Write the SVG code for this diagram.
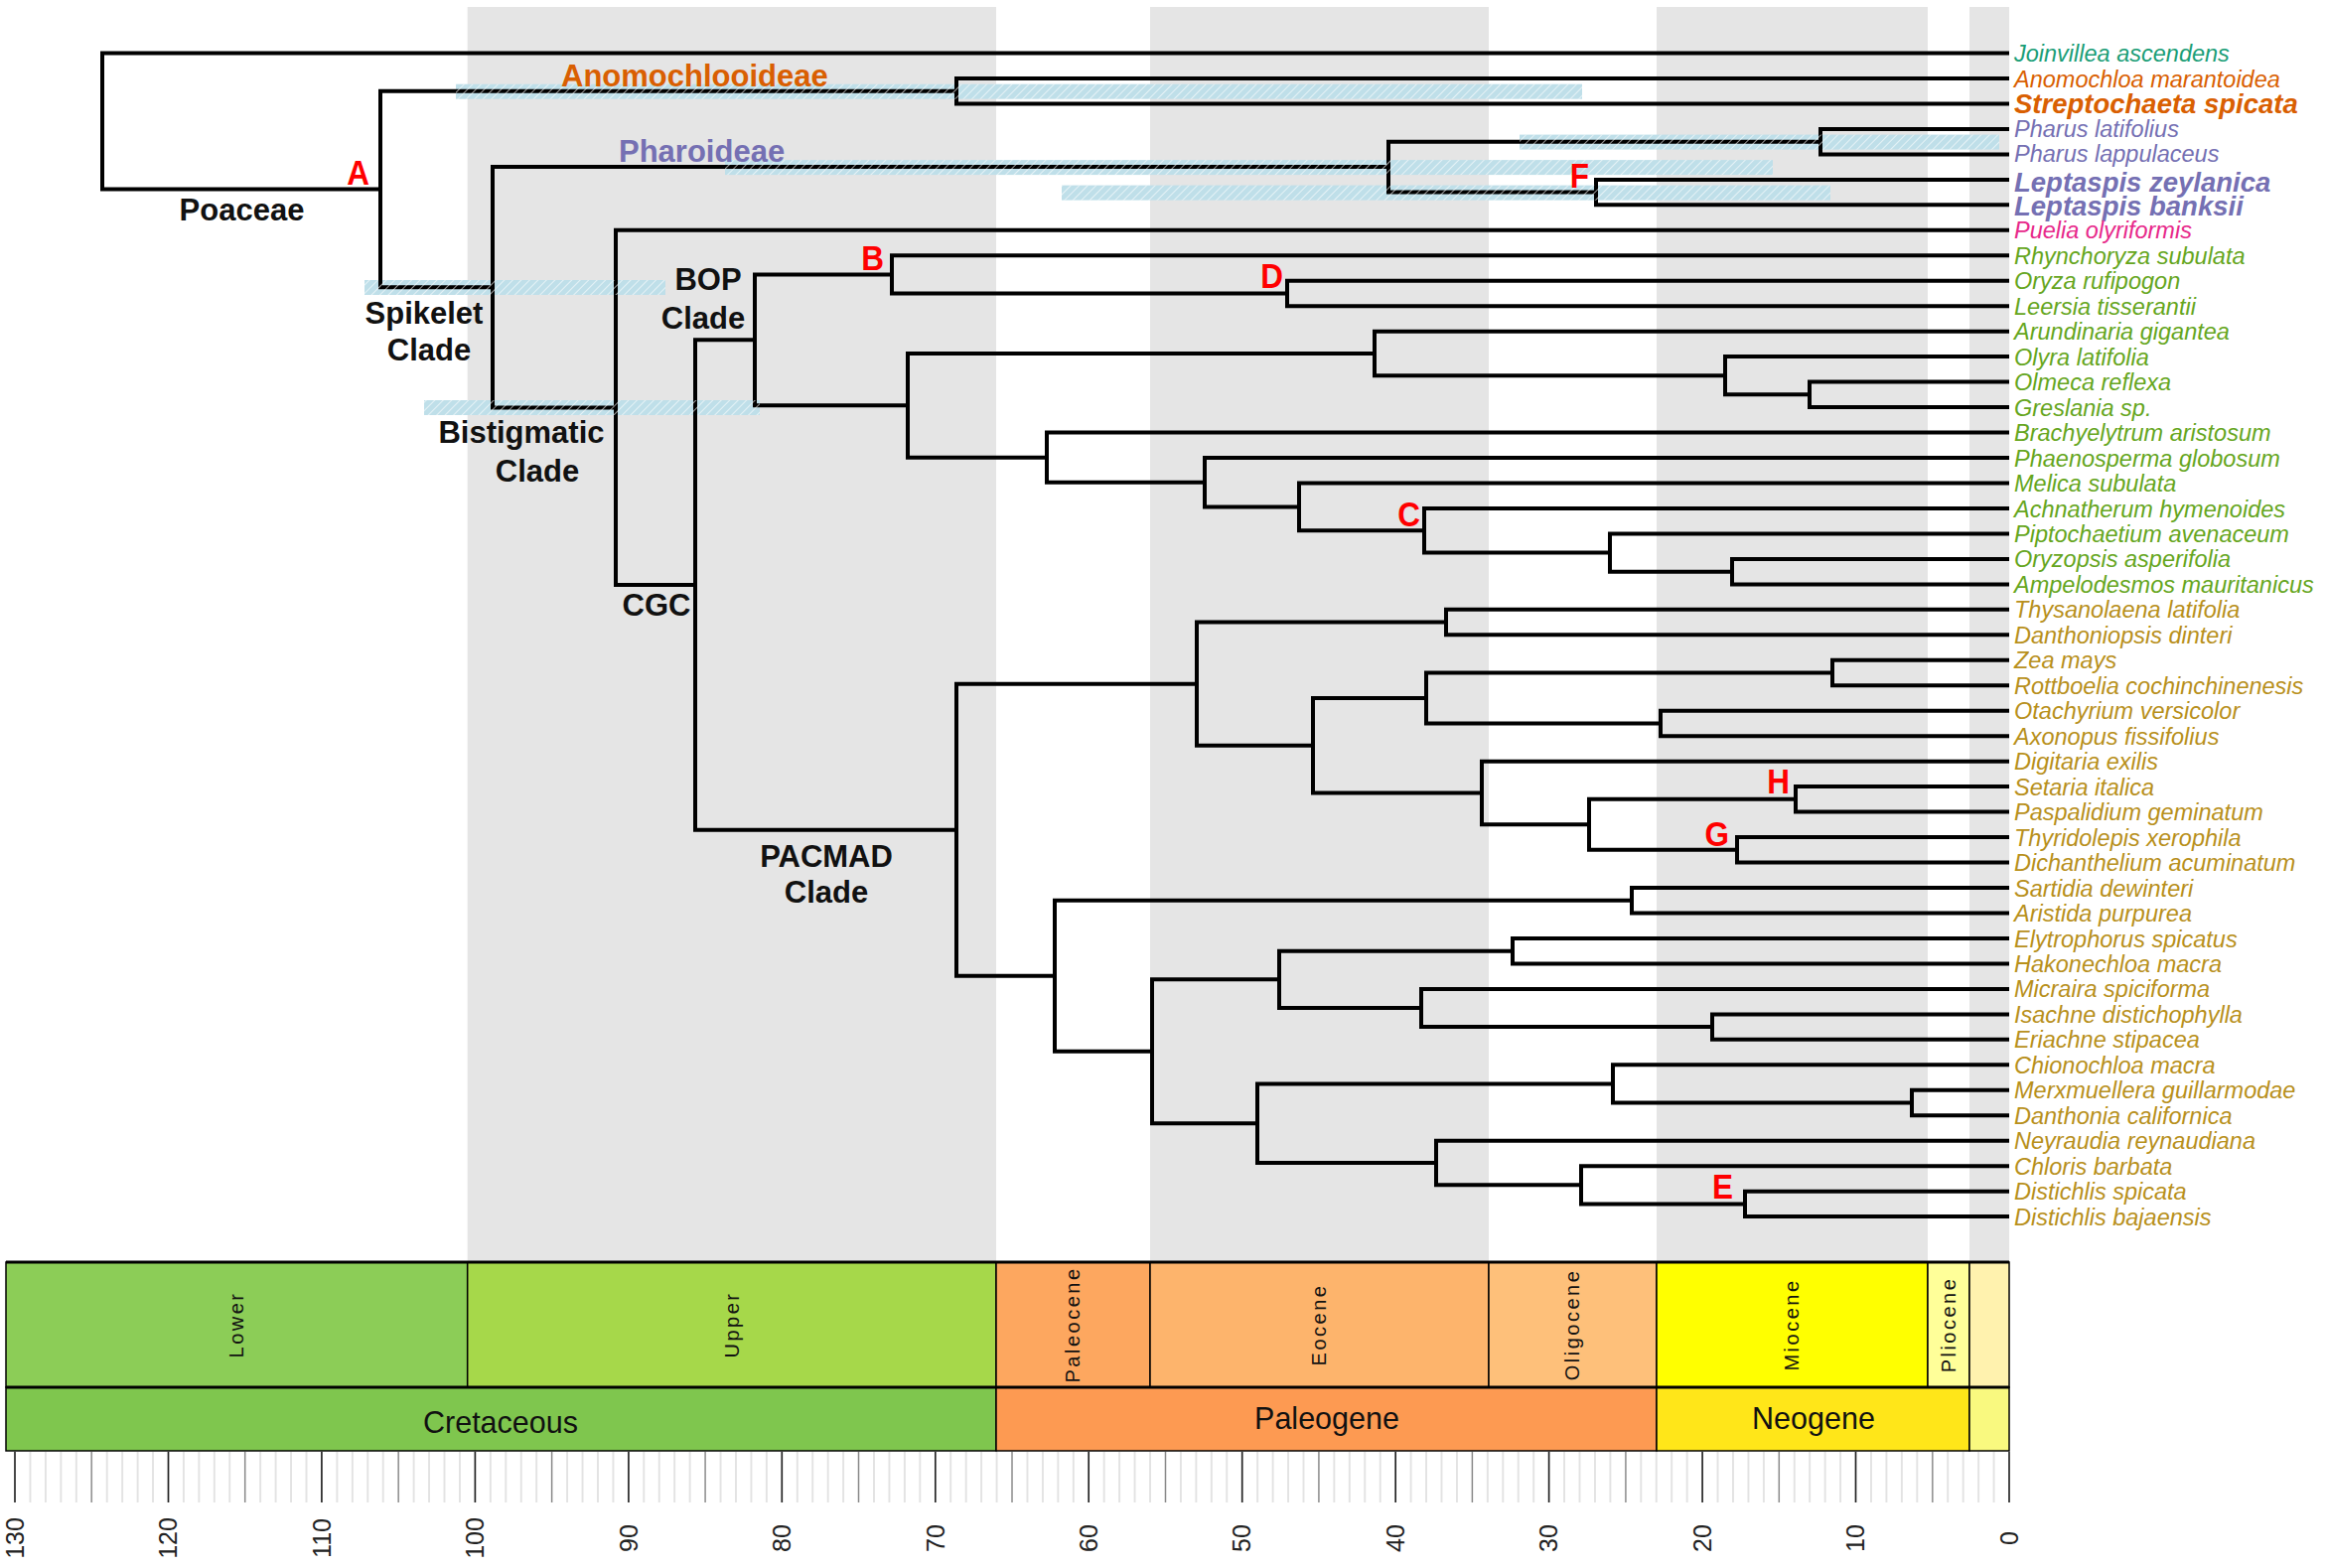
<svg xmlns="http://www.w3.org/2000/svg" width="2342" height="1579" viewBox="0 0 2342 1579">
<style>
.br{fill:none;stroke:#000;stroke-width:4;stroke-linejoin:miter}
.tip{font-family:"Liberation Sans",Arial,sans-serif;font-style:italic;font-size:23.5px}
.tipb{font-family:"Liberation Sans",Arial,sans-serif;font-style:italic;font-weight:bold;font-size:27.5px}
.cl{font-family:"Liberation Sans",Arial,sans-serif;font-weight:bold;font-size:31px;fill:#111;text-anchor:middle}
.nl{font-family:"Liberation Sans",Arial,sans-serif;font-weight:bold;font-size:35px;fill:#f00;text-anchor:end}
.bop{fill:#66a61e}.pac{fill:#b8901c}.pha{fill:#7570b3}.ano{fill:#d95f02}
.band{fill:#e5e5e5}
.bar{fill:#bfdfe9}
.hat{fill:url(#stripes)}
.stg{font-family:"Liberation Sans",Arial,sans-serif;font-size:20px;letter-spacing:2.5px;fill:#111;text-anchor:middle}
.per{font-family:"Liberation Sans",Arial,sans-serif;font-size:30.5px;fill:#111;text-anchor:middle}
.num{font-family:"Liberation Sans",Arial,sans-serif;font-size:25px;fill:#222;text-anchor:middle}
.cell{stroke:#000;stroke-width:1.5}
</style>
<defs>
<pattern id="stripes" patternUnits="userSpaceOnUse" width="6" height="6" patternTransform="rotate(45)">
<line x1="0" y1="0" x2="0" y2="6" stroke="#ffffff" stroke-opacity="0.6" stroke-width="2"/>
</pattern>
<pattern id="minor" patternUnits="userSpaceOnUse" x="2015.277" y="0" width="15.446" height="1579">
<line x1="7.723" y1="0" x2="7.723" y2="1579" stroke="#c8c8c8" stroke-width="1"/>
</pattern>
</defs>
<rect width="2342" height="1579" fill="#fff"/>
<g id="bands">
<rect class="band" x="470.7" y="7" width="532.3" height="1264"/>
<rect class="band" x="1158" y="7" width="341" height="1264"/>
<rect class="band" x="1668" y="7" width="273" height="1264"/>
<rect class="band" x="1983" y="7" width="40" height="1264"/>
</g>
<g id="timescale">
<rect x="6" y="1271" width="464.7" height="126" fill="#8ccd57" class="cell"/>
<rect x="470.7" y="1271" width="532.3" height="126" fill="#a6d84a" class="cell"/>
<rect x="1003" y="1271" width="155" height="126" fill="#fda75f" class="cell"/>
<rect x="1158" y="1271" width="341" height="126" fill="#fdb46c" class="cell"/>
<rect x="1499" y="1271" width="169" height="126" fill="#fec07a" class="cell"/>
<rect x="1668" y="1271" width="273" height="126" fill="#ffff00" class="cell"/>
<rect x="1941" y="1271" width="42" height="126" fill="#ffff99" class="cell"/>
<rect x="1983" y="1271" width="40" height="126" fill="#fff2ae" class="cell"/>
<rect x="6" y="1397" width="997" height="64" fill="#7fc64e" class="cell"/>
<rect x="1003" y="1397" width="665" height="64" fill="#fd9a52" class="cell"/>
<rect x="1668" y="1397" width="315" height="64" fill="#ffe619" class="cell"/>
<rect x="1983" y="1397" width="40" height="64" fill="#f9f97f" class="cell"/>
<line x1="6" y1="1271" x2="2023" y2="1271" stroke="#000" stroke-width="3"/>
<line x1="6" y1="1397" x2="2023" y2="1397" stroke="#000" stroke-width="3"/>
<text class="stg" transform="translate(238,1334) rotate(-90)" dy="0.35em">Lower</text>
<text class="stg" transform="translate(737,1334) rotate(-90)" dy="0.35em">Upper</text>
<text class="stg" transform="translate(1080,1334) rotate(-90)" dy="0.35em">Paleocene</text>
<text class="stg" transform="translate(1328,1334) rotate(-90)" dy="0.35em">Eocene</text>
<text class="stg" transform="translate(1583,1334) rotate(-90)" dy="0.35em">Oligocene</text>
<text class="stg" transform="translate(1804,1334) rotate(-90)" dy="0.35em">Miocene</text>
<text class="stg" transform="translate(1962,1334) rotate(-90)" dy="0.35em">Pliocene</text>
<text class="per" x="504" y="1443">Cretaceous</text>
<text class="per" x="1336" y="1439">Paleogene</text>
<text class="per" x="1826" y="1439">Neogene</text>
<rect x="8" y="1462" width="2016" height="51" fill="url(#minor)"/>
<path d="M1945.8 1462V1513M1791.3 1462V1513M1636.9 1462V1513M1482.4 1462V1513M1327.9 1462V1513M1173.5 1462V1513M1019 1462V1513M864.5 1462V1513M710.1 1462V1513M555.6 1462V1513M401.2 1462V1513M246.7 1462V1513M92.2 1462V1513" stroke="#888" stroke-width="1.3"/>
<path d="M2023 1462V1513M1868.5 1462V1513M1714.1 1462V1513M1559.6 1462V1513M1405.2 1462V1513M1250.7 1462V1513M1096.2 1462V1513M941.8 1462V1513M787.3 1462V1513M632.9 1462V1513M478.4 1462V1513M323.9 1462V1513M169.5 1462V1513M15 1462V1513" stroke="#222" stroke-width="1.6"/>
<text class="num" transform="translate(15,1549) rotate(-90)" dy="0.35em">130</text>
<text class="num" transform="translate(169.5,1549) rotate(-90)" dy="0.35em">120</text>
<text class="num" transform="translate(323.9,1549) rotate(-90)" dy="0.35em">110</text>
<text class="num" transform="translate(478.4,1549) rotate(-90)" dy="0.35em">100</text>
<text class="num" transform="translate(632.9,1549) rotate(-90)" dy="0.35em">90</text>
<text class="num" transform="translate(787.3,1549) rotate(-90)" dy="0.35em">80</text>
<text class="num" transform="translate(941.8,1549) rotate(-90)" dy="0.35em">70</text>
<text class="num" transform="translate(1096.2,1549) rotate(-90)" dy="0.35em">60</text>
<text class="num" transform="translate(1250.7,1549) rotate(-90)" dy="0.35em">50</text>
<text class="num" transform="translate(1405.2,1549) rotate(-90)" dy="0.35em">40</text>
<text class="num" transform="translate(1559.6,1549) rotate(-90)" dy="0.35em">30</text>
<text class="num" transform="translate(1714.1,1549) rotate(-90)" dy="0.35em">20</text>
<text class="num" transform="translate(1868.5,1549) rotate(-90)" dy="0.35em">10</text>
<text class="num" transform="translate(2023,1549) rotate(-90)" dy="0.35em">0</text>
</g>
<g id="hpd-bars">
<rect class="bar" x="459" y="84.7" width="1134" height="15"/>
<rect class="bar" x="730" y="161.1" width="1055" height="15"/>
<rect class="bar" x="1530" y="135.6" width="483" height="15"/>
<rect class="bar" x="1069" y="186.6" width="774" height="15"/>
<rect class="bar" x="367" y="282" width="303" height="15"/>
<rect class="bar" x="427" y="403" width="338" height="15"/>
</g>
<g id="connectors">
<path class="br" d="M2023 53.5H103V190.5H383"/>
<path class="br" d="M963 91.7H383V289.25H496"/>
<path class="br" d="M2023 79H963V104.4H2023"/>
<path class="br" d="M1398 168.1H496V410.4H620"/>
<path class="br" d="M1833 142.65H1398V193.6H1607"/>
<path class="br" d="M2023 129.9H1833V155.4H2023"/>
<path class="br" d="M2023 180.9H1607V206.3H2023"/>
<path class="br" d="M2023 231.8H620V589H700"/>
<path class="br" d="M760 342.35H700V835.7H963"/>
<path class="br" d="M898 276.4H760V408.3H914"/>
<path class="br" d="M2023 257.3H898V295.45H1296"/>
<path class="br" d="M2023 282.7H1296V308.2H2023"/>
<path class="br" d="M1384 355.95H914V460.65H1054"/>
<path class="br" d="M2023 333.7H1384V378.2H1737"/>
<path class="br" d="M2023 359.1H1737V397.35H1822"/>
<path class="br" d="M2023 384.6H1822V410.1H2023"/>
<path class="br" d="M2023 435.6H1054V485.7H1213"/>
<path class="br" d="M2023 461H1213V510.4H1308"/>
<path class="br" d="M2023 486.5H1308V534.25H1434"/>
<path class="br" d="M2023 512H1434V556.5H1621"/>
<path class="br" d="M2023 537.4H1621V575.65H1744"/>
<path class="br" d="M2023 562.9H1744V588.4H2023"/>
<path class="br" d="M1205 688.65H963V982.8H1062"/>
<path class="br" d="M1456 626.55H1205V750.75H1322"/>
<path class="br" d="M2023 613.8H1456V639.3H2023"/>
<path class="br" d="M1436 703H1322V798.5H1492"/>
<path class="br" d="M1845 677.55H1436V728.45H1672"/>
<path class="br" d="M2023 664.8H1845V690.3H2023"/>
<path class="br" d="M2023 715.7H1672V741.2H2023"/>
<path class="br" d="M2023 766.7H1492V830.3H1600"/>
<path class="br" d="M1808 804.85H1600V855.8H1749"/>
<path class="br" d="M2023 792.1H1808V817.6H2023"/>
<path class="br" d="M2023 843.1H1749V868.5H2023"/>
<path class="br" d="M1643 906.75H1062V1058.8H1160"/>
<path class="br" d="M2023 894H1643V919.5H2023"/>
<path class="br" d="M1288 986.35H1160V1131.2H1266"/>
<path class="br" d="M1523 957.7H1288V1015H1431"/>
<path class="br" d="M2023 945H1523V970.4H2023"/>
<path class="br" d="M2023 995.9H1431V1034.1H1724"/>
<path class="br" d="M2023 1021.4H1724V1046.8H2023"/>
<path class="br" d="M1624 1091.4H1266V1171H1446"/>
<path class="br" d="M2023 1072.3H1624V1110.5H1925"/>
<path class="br" d="M2023 1097.8H1925V1123.2H2023"/>
<path class="br" d="M2023 1148.7H1446V1193.3H1592"/>
<path class="br" d="M2023 1174.2H1592V1212.4H1757"/>
<path class="br" d="M2023 1199.7H1757V1225.1H2023"/>
</g>
<g id="hpd-hatch">
<rect class="hat" x="459" y="84.7" width="1134" height="15"/>
<rect class="hat" x="730" y="161.1" width="1055" height="15"/>
<rect class="hat" x="1530" y="135.6" width="483" height="15"/>
<rect class="hat" x="1069" y="186.6" width="774" height="15"/>
<rect class="hat" x="367" y="282" width="303" height="15"/>
<rect class="hat" x="427" y="403" width="338" height="15"/>
</g>
<g id="tips">
<g id="tip-joinvillea"><text class="tip" x="2028" y="62" fill="#1b9e77">Joinvillea ascendens</text></g>
<g id="tip-anomochloa"><text class="tip ano" x="2028" y="87.5">Anomochloa marantoidea</text></g>
<g id="tip-streptochaeta"><text class="tipb ano" x="2028" y="114">Streptochaeta spicata</text></g>
<g id="tip-pharus-lat"><text class="tip pha" x="2028" y="138.4">Pharus latifolius</text></g>
<g id="tip-pharus-lap"><text class="tip pha" x="2028" y="162.6">Pharus lappulaceus</text></g>
<g id="tip-leptaspis-z"><text class="tipb pha" x="2028" y="193">Leptaspis zeylanica</text></g>
<g id="tip-leptaspis-b"><text class="tipb pha" x="2028" y="216.5">Leptaspis banksii</text></g>
<g id="tip-puelia"><text class="tip" x="2028" y="240.3" fill="#e7298a">Puelia olyriformis</text></g>
<g id="tip-rhynchoryza"><text class="tip bop" x="2028" y="265.8">Rhynchoryza subulata</text></g>
<g id="tip-oryza"><text class="tip bop" x="2028" y="291.2">Oryza rufipogon</text></g>
<g id="tip-leersia"><text class="tip bop" x="2028" y="316.7">Leersia tisserantii</text></g>
<g id="tip-arundinaria"><text class="tip bop" x="2028" y="342.2">Arundinaria gigantea</text></g>
<g id="tip-olyra"><text class="tip bop" x="2028" y="367.6">Olyra latifolia</text></g>
<g id="tip-olmeca"><text class="tip bop" x="2028" y="393.1">Olmeca reflexa</text></g>
<g id="tip-greslania"><text class="tip bop" x="2028" y="418.6">Greslania sp.</text></g>
<g id="tip-brachyelytrum"><text class="tip bop" x="2028" y="444.1">Brachyelytrum aristosum</text></g>
<g id="tip-phaenosperma"><text class="tip bop" x="2028" y="469.5">Phaenosperma globosum</text></g>
<g id="tip-melica"><text class="tip bop" x="2028" y="495">Melica subulata</text></g>
<g id="tip-achnatherum"><text class="tip bop" x="2028" y="520.5">Achnatherum hymenoides</text></g>
<g id="tip-piptochaetium"><text class="tip bop" x="2028" y="545.9">Piptochaetium avenaceum</text></g>
<g id="tip-oryzopsis"><text class="tip bop" x="2028" y="571.4">Oryzopsis asperifolia</text></g>
<g id="tip-ampelodesmos"><text class="tip bop" x="2028" y="596.9">Ampelodesmos mauritanicus</text></g>
<g id="tip-thysanolaena"><text class="tip pac" x="2028" y="622.3">Thysanolaena latifolia</text></g>
<g id="tip-danthoniopsis"><text class="tip pac" x="2028" y="647.8">Danthoniopsis dinteri</text></g>
<g id="tip-zea"><text class="tip pac" x="2028" y="673.3">Zea mays</text></g>
<g id="tip-rottboelia"><text class="tip pac" x="2028" y="698.8">Rottboelia cochinchinenesis</text></g>
<g id="tip-otachyrium"><text class="tip pac" x="2028" y="724.2">Otachyrium versicolor</text></g>
<g id="tip-axonopus"><text class="tip pac" x="2028" y="749.7">Axonopus fissifolius</text></g>
<g id="tip-digitaria"><text class="tip pac" x="2028" y="775.2">Digitaria exilis</text></g>
<g id="tip-setaria"><text class="tip pac" x="2028" y="800.6">Setaria italica</text></g>
<g id="tip-paspalidium"><text class="tip pac" x="2028" y="826.1">Paspalidium geminatum</text></g>
<g id="tip-thyridolepis"><text class="tip pac" x="2028" y="851.6">Thyridolepis xerophila</text></g>
<g id="tip-dichanthelium"><text class="tip pac" x="2028" y="877">Dichanthelium acuminatum</text></g>
<g id="tip-sartidia"><text class="tip pac" x="2028" y="902.5">Sartidia dewinteri</text></g>
<g id="tip-aristida"><text class="tip pac" x="2028" y="928">Aristida purpurea</text></g>
<g id="tip-elytrophorus"><text class="tip pac" x="2028" y="953.5">Elytrophorus spicatus</text></g>
<g id="tip-hakonechloa"><text class="tip pac" x="2028" y="978.9">Hakonechloa macra</text></g>
<g id="tip-micraira"><text class="tip pac" x="2028" y="1004.4">Micraira spiciforma</text></g>
<g id="tip-isachne"><text class="tip pac" x="2028" y="1029.9">Isachne distichophylla</text></g>
<g id="tip-eriachne"><text class="tip pac" x="2028" y="1055.3">Eriachne stipacea</text></g>
<g id="tip-chionochloa"><text class="tip pac" x="2028" y="1080.8">Chionochloa macra</text></g>
<g id="tip-merxmuellera"><text class="tip pac" x="2028" y="1106.3">Merxmuellera guillarmodae</text></g>
<g id="tip-danthonia"><text class="tip pac" x="2028" y="1131.7">Danthonia californica</text></g>
<g id="tip-neyraudia"><text class="tip pac" x="2028" y="1157.2">Neyraudia reynaudiana</text></g>
<g id="tip-chloris"><text class="tip pac" x="2028" y="1182.7">Chloris barbata</text></g>
<g id="tip-distichlis-s"><text class="tip pac" x="2028" y="1208.2">Distichlis spicata</text></g>
<g id="tip-distichlis-b"><text class="tip pac" x="2028" y="1233.6">Distichlis bajaensis</text></g>
</g>
<g id="clade-labels">
<g id="lbl-poaceae"><text class="cl" x="243.5" y="222" font-size="35">Poaceae</text></g>
<g id="lbl-spikelet"><text class="cl" x="427" y="326">Spikelet</text><text class="cl" x="432" y="363">Clade</text></g>
<g id="lbl-bistigmatic"><text class="cl" x="525" y="446">Bistigmatic</text><text class="cl" x="541" y="485">Clade</text></g>
<g id="lbl-bop"><text class="cl" x="713" y="292">BOP</text><text class="cl" x="708" y="331">Clade</text></g>
<g id="lbl-cgc"><text class="cl" x="661" y="620">CGC</text></g>
<g id="lbl-pacmad"><text class="cl" x="832" y="873">PACMAD</text><text class="cl" x="832" y="909">Clade</text></g>
<g id="lbl-anomochlooideae"><text class="cl ano" x="565" y="87" font-size="30" style="text-anchor:start">Anomochlooideae</text></g>
<g id="lbl-pharoideae"><text class="cl pha" x="623" y="163" font-size="30" style="text-anchor:start">Pharoideae</text></g>
</g>
<g id="node-labels">
<g id="node-A"><text class="nl" transform="translate(372,186) scale(0.9,1)">A</text></g>
<g id="node-B"><text class="nl" transform="translate(890,272) scale(0.9,1)">B</text></g>
<g id="node-C"><text class="nl" transform="translate(1430,530) scale(0.9,1)">C</text></g>
<g id="node-D"><text class="nl" transform="translate(1292,290) scale(0.9,1)">D</text></g>
<g id="node-E"><text class="nl" transform="translate(1745,1207) scale(0.9,1)">E</text></g>
<g id="node-F"><text class="nl" transform="translate(1600,189) scale(0.9,1)">F</text></g>
<g id="node-G"><text class="nl" transform="translate(1741,852) scale(0.9,1)">G</text></g>
<g id="node-H"><text class="nl" transform="translate(1802,799) scale(0.9,1)">H</text></g>
</g>
</svg>
